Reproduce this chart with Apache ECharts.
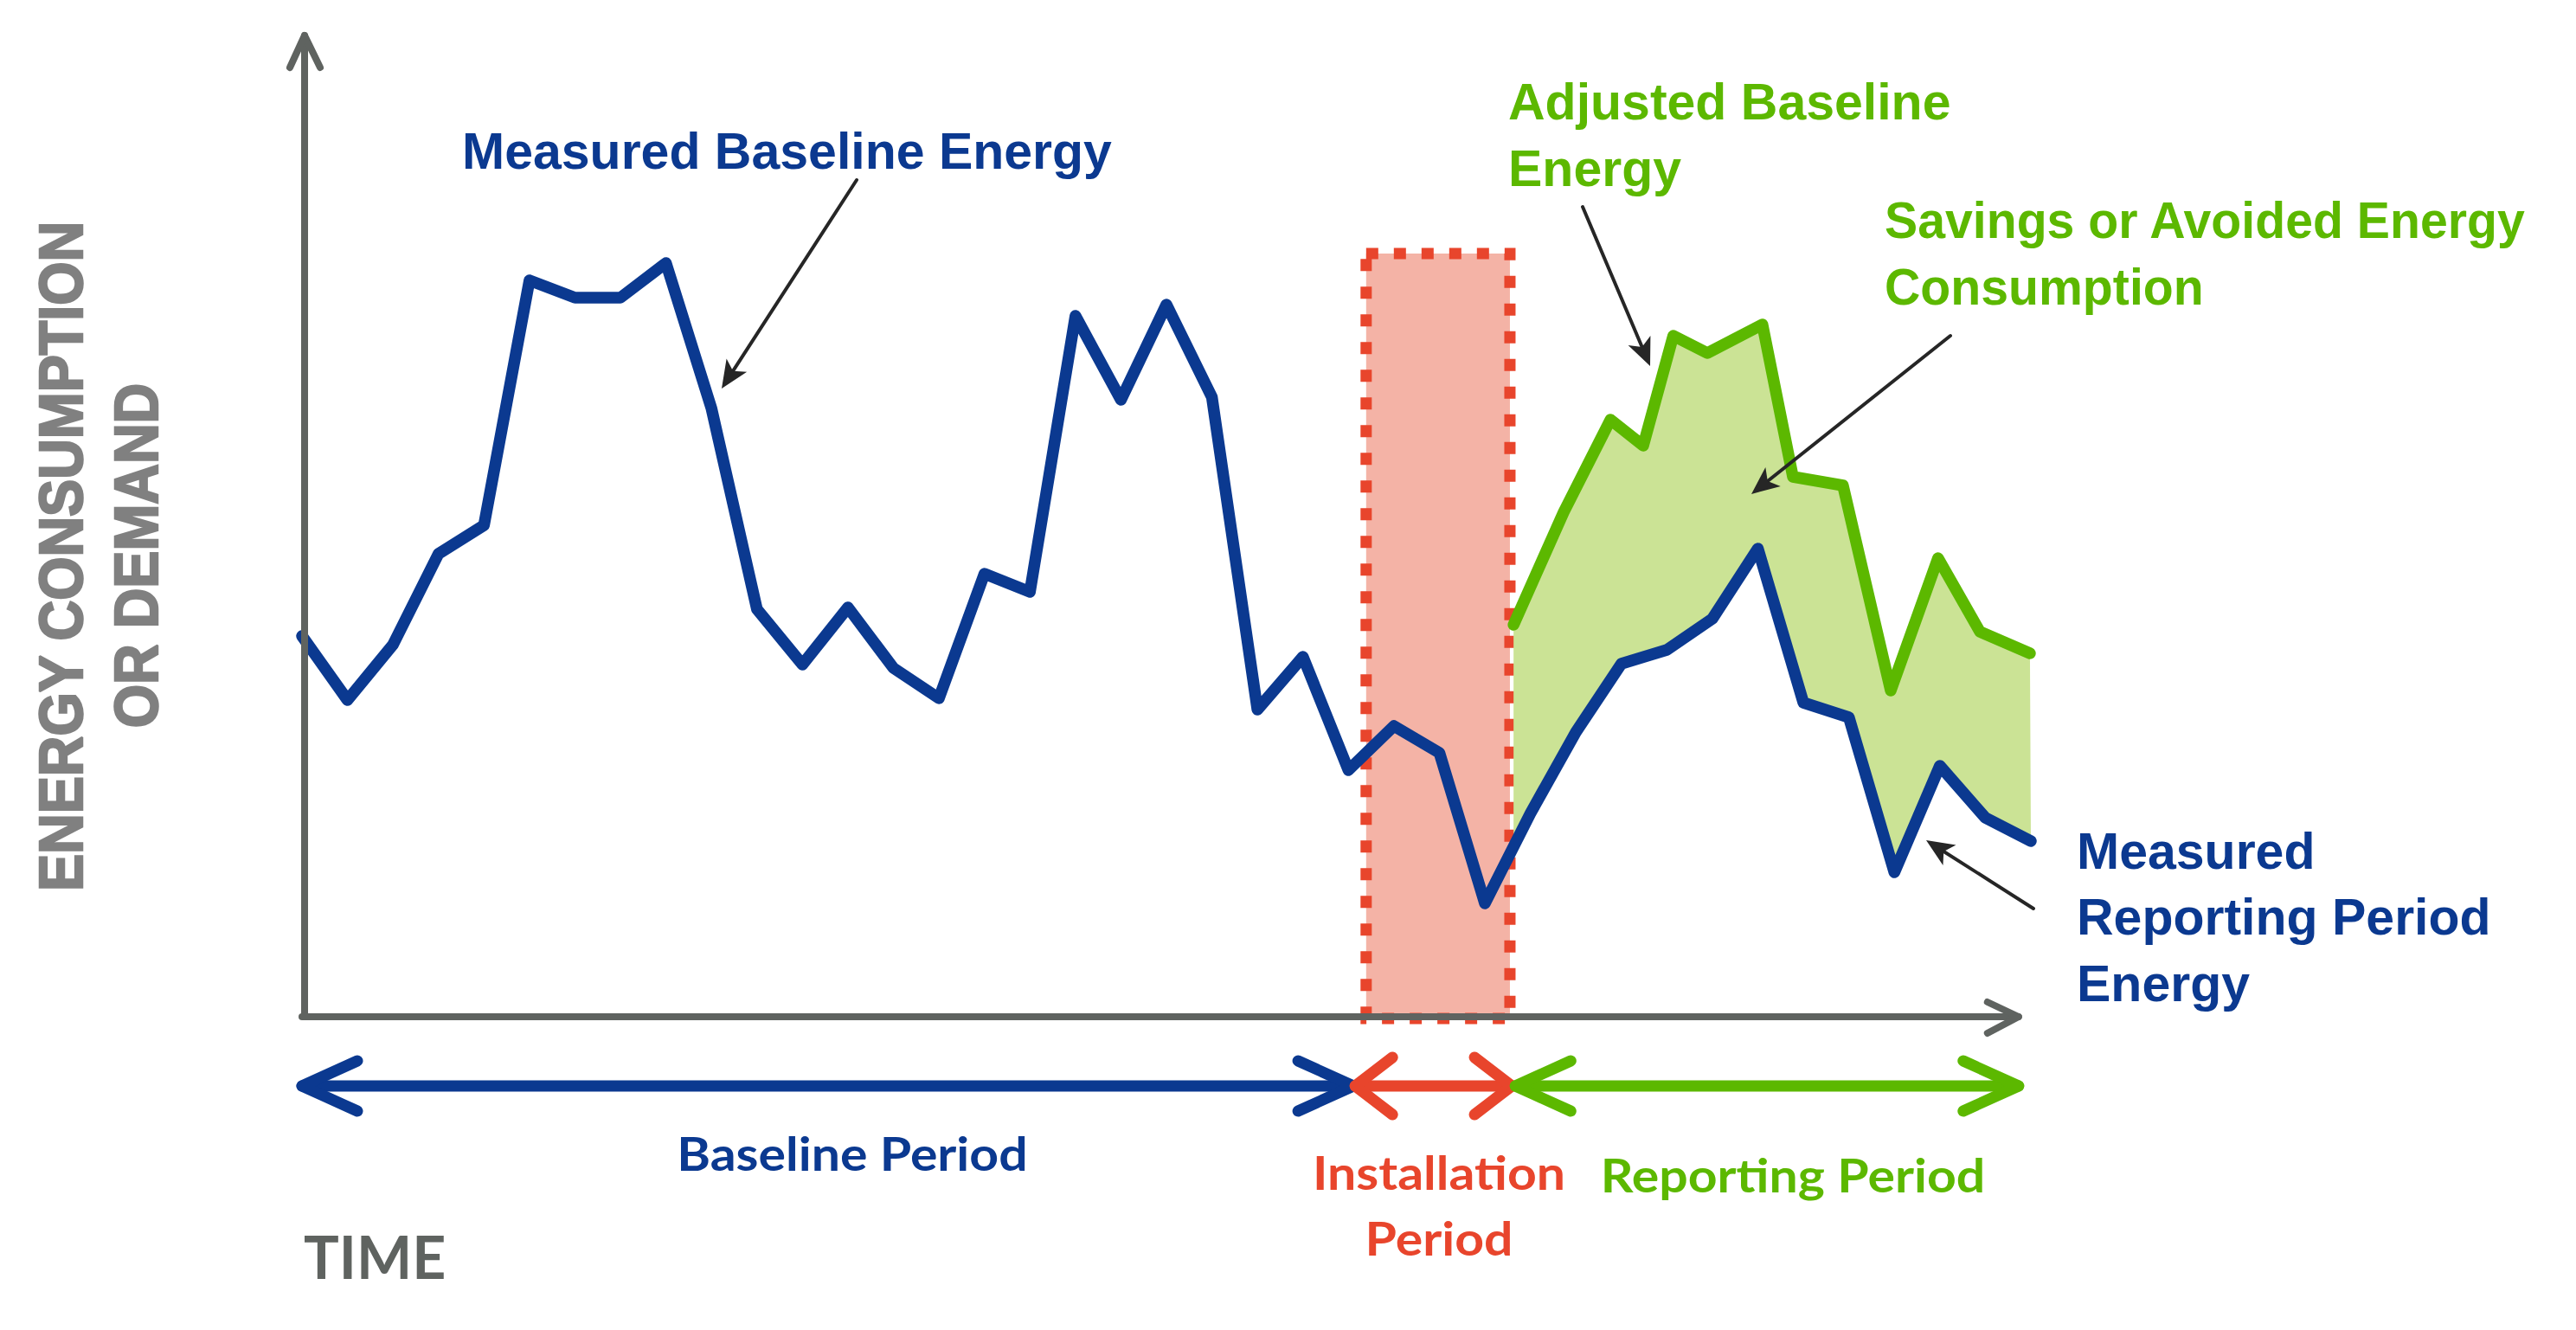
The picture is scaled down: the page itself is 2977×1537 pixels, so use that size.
<!DOCTYPE html>
<html>
<head>
<meta charset="utf-8">
<script src="https://cdn.jsdelivr.net/npm/echarts@6/dist/echarts.min.js"></script>
<style>
  html, body { margin: 0; padding: 0; background: #fff; }
  #chart { width: 2977px; height: 1537px; }
</style>
</head>
<body>
<div id="chart"></div>
<script>
// measured energy, one value per time step (baseline, installation, reporting)
var measured = [44.2, 36.8, 43.2, 53.7, 57.0, 85.3, 83.3, 83.3, 87.3, 70.5,
                47.3, 40.9, 47.5, 40.5, 37.0, 51.4, 49.3, 81.2, 71.5, 82.5,
                71.8, 35.7, 41.8, 28.7, 33.8, 30.7, 13.3, 23.7, 33.1, 41.0,
                42.6, 46.2, 54.3, 36.5, 34.8, 16.9, 29.2, 23.2, 20.5];

// adjusted baseline, only over the reporting period
var adjustedTime = [26.63, 27.73, 28.76, 29.48, 30.14, 30.89, 32.10, 32.77, 33.87, 34.92, 35.96, 36.88, 37.98];
var adjusted = [45.5, 58.5, 69.2, 66.2, 78.9, 76.9, 80.2, 62.6, 61.6, 37.9, 53.2, 44.7, 42.2];

// installation window (time) and height of the shaded box
var installWindow = [23.39, 26.55];
var installTop = 88.4;

// period arrows under the axis
var periodNames = ['Baseline Period', 'Installation\nPeriod', 'Reporting Period'];
var periodStart = [0, 23.15, 26.67];
var periodEnd = [23.11, 26.59, 37.73];

var BLUE = '#0b3990', GREEN = '#5cb800', RED = '#e8452c', GREY = '#5f6360';

var chart = echarts.init(document.getElementById('chart'), null, { renderer: 'svg' });

var option = {
    animation: false,
    backgroundColor: '#fff',
    grid: { left: 349, right: 630, top: 41, bottom: 360 },
    xAxis: { type: 'value', min: 0, max: 38, show: false },
    yAxis: { type: 'value', min: 0, max: 113.6, show: false },
    series: [
        {
            // installation period box
            type: 'custom',
            z: 1,
            silent: true,
            data: [[installWindow[0], installWindow[1], installTop]],
            renderItem: function (params, api) {
                var p0 = api.coord([api.value(0), 0]);
                var p1 = api.coord([api.value(1), api.value(2)]);
                return {
                    type: 'rect',
                    shape: { x: p0[0], y: p1[1], width: p1[0] - p0[0], height: p0[1] - p1[1] },
                    style: { fill: '#f4b3a6', stroke: RED, lineWidth: 13, lineDash: [14, 18] }
                };
            }
        },
        {
            // savings: area between adjusted baseline and measured energy
            type: 'custom',
            z: 2,
            silent: true,
            data: [[adjustedTime[0], 0]],
            renderItem: function (params, api) {
                var pts = [];
                for (var i = 0; i < adjustedTime.length; i++) {
                    pts.push(api.coord([adjustedTime[i], adjusted[i]]));
                }
                var t0 = adjustedTime[0];
                var i0 = Math.floor(t0);
                for (var j = measured.length - 1; j > i0; j--) {
                    pts.push(api.coord([j, measured[j]]));
                }
                var f = t0 - i0;
                pts.push(api.coord([t0, measured[i0] + (measured[i0 + 1] - measured[i0]) * f]));
                return { type: 'polygon', shape: { points: pts }, style: { fill: '#cbe395' } };
            }
        },
        {
            name: 'Adjusted Baseline Energy',
            type: 'line',
            z: 3,
            symbol: 'none',
            data: adjustedTime.map(function (t, i) { return [t, adjusted[i]]; }),
            lineStyle: { color: GREEN, width: 13.5, cap: 'round', join: 'round' }
        },
        {
            name: 'Measured Energy',
            type: 'line',
            z: 4,
            symbol: 'none',
            data: measured.map(function (v, i) { return [i, v]; }),
            lineStyle: { color: BLUE, width: 13.5, cap: 'round', join: 'round' }
        }
    ]
};
chart.setOption(option);

function px(t, v) {
    return chart.convertToPixel({ gridIndex: 0 }, [t, v]);
}

function poly(points, color, width) {
    return {
        type: 'polyline', silent: true, z: 100,
        shape: { points: points },
        style: { stroke: color, lineWidth: width, fill: null, lineCap: 'round', lineJoin: 'round' }
    };
}

function pointer(x1, y1, x2, y2) {
    var dx = x2 - x1, dy = y2 - y1, len = Math.sqrt(dx * dx + dy * dy);
    var ux = dx / len, uy = dy / len, L = 32, W = 14;
    var bx = x2 - ux * L, by = y2 - uy * L;
    return [
        poly([[x1, y1], [x2 - ux * 12, y2 - uy * 12]], '#262626', 4),
        {
            type: 'polygon', silent: true, z: 100,
            shape: { points: [[x2, y2], [bx - uy * W, by + ux * W], [x2 - ux * 24, y2 - uy * 24], [bx + uy * W, by - ux * W]] },
            style: { fill: '#262626' }
        }
    ];
}

function label(text, x, y, color, size, family, align, extra) {
    var el = {
        type: 'text', silent: true, z: 100, x: x, y: y,
        style: {
            text: text, fill: color, fontSize: size, fontWeight: 'bold', fontFamily: family,
            align: align || 'left', verticalAlign: 'middle',
            textAlign: align || 'left', textVerticalAlign: 'middle'
        }
    };
    if (extra) {
        for (var key in extra) {
            if (key === 'style') {
                for (var s in extra.style) el.style[s] = extra.style[s];
            } else {
                el[key] = extra[key];
            }
        }
    }
    return el;
}

var g = [];
var origin = px(0, 0);
var yTop = px(0, 113.6);
var xEnd = px(periodEnd[2], 0);

// axes with open arrow heads
g.push(poly([[origin[0] + 3, origin[1] - 2], [origin[0] + 3, yTop[1]]], GREY, 8));
g.push(poly([[origin[0] - 14, yTop[1] + 37], [origin[0] + 3, yTop[1]], [origin[0] + 21, yTop[1] + 37]], GREY, 8));
g.push(poly([[origin[0], origin[1] - 2], [xEnd[0], origin[1] - 2]], GREY, 8));
g.push(poly([[xEnd[0] - 36, origin[1] - 19], [xEnd[0], origin[1] - 2], [xEnd[0] - 36, origin[1] + 17]], GREY, 8));

// period arrows
var periodColors = [BLUE, RED, GREEN];
var headW = [64, 43, 64], headH = [29, 33, 29];
var ay = 1255;
for (var k = 0; k < 3; k++) {
    var a = px(periodStart[k], 0)[0], b = px(periodEnd[k], 0)[0];
    var c = periodColors[k];
    g.push(poly([[a, ay], [b, ay]], c, 13));
    g.push(poly([[a + headW[k], ay - headH[k]], [a, ay], [a + headW[k], ay + headH[k]]], c, 13));
    g.push(poly([[b - headW[k], ay - headH[k]], [b, ay], [b - headW[k], ay + headH[k]]], c, 13));
}

var SANS = '"Liberation Sans", Arial, sans-serif';
var HUM = 'Lato, "Open Sans", sans-serif';
var squash = { scaleY: 0.9 };

// period names
g.push(label(periodNames[0], 985, 1333, BLUE, 59, HUM, 'center', squash));
var inst = periodNames[1].split('\n');
g.push(label(inst[0], 1663, 1355, RED, 59, HUM, 'center', squash));
g.push(label(inst[1], 1663, 1431, RED, 59, HUM, 'center', squash));
g.push(label(periodNames[2], 2072, 1358, GREEN, 59, HUM, 'center', squash));

// axis titles
g.push(label('TIME', 351, 1451, GREY, 68, HUM, 'left'));
var yTitle = { rotation: Math.PI / 2, scaleX: 0.91, style: { stroke: '#808080', lineWidth: 2.5 } };
g.push(label('ENERGY CONSUMPTION', 70, 643, '#808080', 71, SANS, 'center', yTitle));
g.push(label('OR DEMAND', 157, 642, '#808080', 71, SANS, 'center', yTitle));

// annotations
g.push(label('Measured Baseline Energy', 534, 175, BLUE, 59, SANS));
g.push(label('Adjusted Baseline', 1743, 118, GREEN, 59, SANS));
g.push(label('Energy', 1743, 195, GREEN, 59, SANS));
g.push(label('Savings or Avoided Energy', 2178, 254, GREEN, 59, SANS, 'left', { scaleX: 0.97 }));
g.push(label('Consumption', 2178, 331, GREEN, 59, SANS, 'left', { scaleX: 0.97 }));
g.push(label('Measured', 2400, 984, BLUE, 59, SANS));
g.push(label('Reporting Period', 2400, 1060, BLUE, 59, SANS));
g.push(label('Energy', 2400, 1137, BLUE, 59, SANS));

g = g.concat(pointer(990, 208, 834, 449));
g = g.concat(pointer(1829, 239, 1907, 423));
g = g.concat(pointer(2254, 388, 2024, 571));
g = g.concat(pointer(2350, 1050, 2226, 971));

chart.setOption({ graphic: { elements: g } });
</script>
</body>
</html>
